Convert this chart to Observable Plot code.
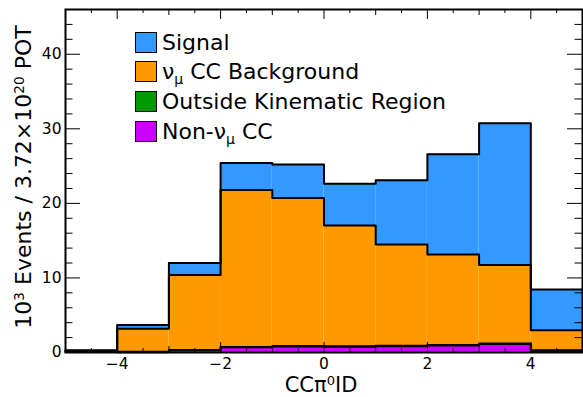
<!DOCTYPE html>
<html>
<head>
<meta charset="utf-8">
<script src="https://cdn.jsdelivr.net/npm/d3@7"></script>
<script src="https://cdn.jsdelivr.net/npm/@observablehq/plot@0.6"></script>
<style>
  html, body { margin: 0; padding: 0; background: white; }
  #wrap { position: relative; width: 583px; height: 397px; font-family: "DejaVu Sans", sans-serif; color: black; }
  #wrap svg { position: absolute; left: 0; top: 0; }
  .lg-row { position: absolute; left: 135px; height: 22px; display: flex; align-items: center; white-space: nowrap; font-size: 22px; }
  .lg-box { width: 20px; height: 19px; border: 1.5px solid black; margin-right: 5px; box-sizing: content-box; }
  .lg-row sub { font-size: 14px; vertical-align: -5px; line-height: 0; }
  .title { position: absolute; white-space: nowrap; line-height: 1; }
  .title sup { font-size: 0.62em; vertical-align: 0.55em; line-height: 0; }
</style>
</head>
<body>
<div id="wrap"></div>
<script>
// ---- data ----
const binLo = [-5, -4, -3, -2, -1, 0, 1, 2, 3, 4];
const binHi = [-4, -3, -2, -1, 0, 1, 2, 3, 4, 5];
// stacked components, bottom to top (10^3 events)
const nonNumuCC  = [0.08, 0.05, 0.30, 0.70, 0.82, 0.78, 0.85, 0.95, 1.15, 0.25];
const outsideKin = [0.05, 0.05, 0.05, 0.05, 0.05, 0.05, 0.05, 0.05, 0.05, 0.05];
const numuCCBkg  = [0.07, 3.10, 10.05, 21.05, 19.85, 16.20, 13.60, 12.15, 10.55, 2.70];
const signal     = [0.10, 0.50, 1.60, 3.60, 4.50, 5.60, 8.60, 13.45, 19.00, 5.45];
const layerNames = ["Non-νμ CC", "Outside Kinematic Region", "νμ CC Background", "Signal"];
const layerColors = ["#cc00ff", "#009900", "#ff9900", "#3399ff"];
const yMajor = [0, 10, 20, 30, 40];
const yMinor = [2, 4, 6, 8, 12, 14, 16, 18, 22, 24, 26, 28, 32, 34, 36, 38, 42, 44];
const xMajor = [-4, -2, 0, 2, 4];
const xMid = [-3, -1, 1, 3];
const xMinor = [-4.5, -3.5, -2.5, -1.5, -0.5, 0.5, 1.5, 2.5, 3.5, 4.5];

// ---- build stacked table ----
const layers = [nonNumuCC, outsideKin, numuCCBkg, signal];
const rects = [];
const tops = []; // step outlines
const base = binLo.map(() => 0);
layers.forEach((vals, li) => {
  const pts = [];
  vals.forEach((v, i) => {
    const y1 = base[i], y2 = base[i] + v;
    rects.push({lo: binLo[i], hi: binHi[i], y1, y2, layer: layerNames[li], color: layerColors[li]});
    base[i] = y2;
    pts.push({x: binLo[i], y: y2, layer: li});
  });
  pts.push({x: binHi[binHi.length - 1], y: base[base.length - 1], layer: li});
  tops.push(pts);
});

const W = 583, H = 397, mL = 65, mR = 1, mT = 9, mB = 45;
const pW = W - mL - mR, pH = H - mT - mB;
const fmt = d => (d < 0 ? "\u2212" + Math.abs(d) : String(d));

const chart = Plot.plot({
  width: W, height: H,
  marginLeft: mL, marginRight: mR, marginTop: mT, marginBottom: mB,
  x: {domain: [-5, 5], axis: null},
  y: {domain: [0, 46], axis: null},
  style: {fontFamily: "DejaVu Sans, sans-serif", fontSize: "15.5px", background: "white", color: "black"},
  marks: [
    Plot.rect(rects, {x1: "lo", x2: "hi", y1: "y1", y2: "y2", fill: "color"}),
    ...tops.slice().reverse().map(pts =>
      Plot.line(pts, {x: "x", y: "y", curve: "step-after", stroke: "black", strokeWidth: 2})
    ),
    // ticks left/right
    Plot.tickY(yMajor, {y: d => d, insetRight: pW - 15, stroke: "black", strokeWidth: 1}),
    Plot.tickY(yMinor, {y: d => d, insetRight: pW - 7.5, stroke: "black", strokeWidth: 1}),
    Plot.tickY(yMajor, {y: d => d, insetLeft: pW - 15, stroke: "black", strokeWidth: 1}),
    Plot.tickY(yMinor, {y: d => d, insetLeft: pW - 7.5, stroke: "black", strokeWidth: 1}),
    // ticks bottom/top
    Plot.tickX(xMajor, {x: d => d, insetTop: pH - 10, stroke: "black", strokeWidth: 1}),
    Plot.tickX(xMid, {x: d => d, insetTop: pH - 6, stroke: "black", strokeWidth: 1}),
    Plot.tickX(xMinor, {x: d => d, insetTop: pH - 4, stroke: "black", strokeWidth: 1}),
    Plot.tickX(xMajor, {x: d => d, insetBottom: pH - 10, stroke: "black", strokeWidth: 1}),
    Plot.tickX(xMid, {x: d => d, insetBottom: pH - 6, stroke: "black", strokeWidth: 1}),
    Plot.tickX(xMinor, {x: d => d, insetBottom: pH - 4, stroke: "black", strokeWidth: 1}),
    // tick labels
    Plot.text(xMajor, {x: d => d, frameAnchor: "bottom", lineAnchor: "top", dy: 5, text: fmt, fill: "black"}),
    Plot.text(yMajor, {y: d => d, frameAnchor: "left", textAnchor: "end", dx: -4, text: fmt, fill: "black"}),
    Plot.frame({stroke: "black", strokeWidth: 2})
  ]
});

const wrap = document.getElementById("wrap");
wrap.appendChild(chart);

// legend (top to bottom: Signal, numu CC, Outside, Non-numu)
const legendItems = [
  {html: "Signal", color: layerColors[3]},
  {html: "ν<sub>μ</sub> CC Background", color: layerColors[2]},
  {html: "Outside Kinematic Region", color: layerColors[1]},
  {html: "Non-ν<sub>μ</sub> CC", color: layerColors[0]}
];
legendItems.forEach((it, i) => {
  const row = document.createElement("div");
  row.className = "lg-row";
  row.style.top = (31 + i * 29.7) + "px";
  row.innerHTML = `<div class="lg-box" style="background:${it.color}"></div><span>${it.html}</span>`;
  wrap.appendChild(row);
});

// axis titles
const xt = document.createElement("div");
xt.className = "title";
xt.style.fontSize = "21px";
xt.style.left = "321px";
xt.style.top = "375px";
xt.style.transform = "translateX(-50%)";
xt.innerHTML = "CCπ<sup>0</sup>ID";
wrap.appendChild(xt);

const yt = document.createElement("div");
yt.className = "title";
yt.style.fontSize = "22px";
yt.style.left = "24px";
yt.style.top = "177px";
yt.style.transform = "translate(-50%, -50%) rotate(-90deg)";
yt.innerHTML = "10<sup>3</sup> Events / 3.72×10<sup>20</sup> POT";
wrap.appendChild(yt);
</script>
</body>
</html>
